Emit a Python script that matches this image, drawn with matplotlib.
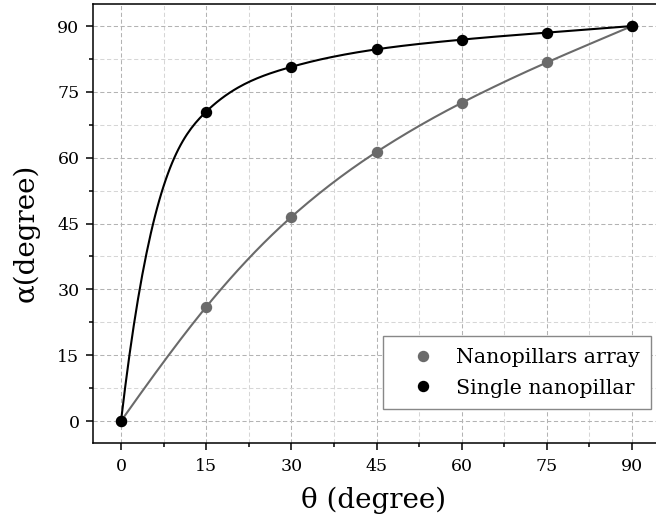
import numpy as np
import matplotlib
matplotlib.use("Agg")
import matplotlib.pyplot as plt
from matplotlib.ticker import MultipleLocator

# ---- data ----
theta = [0, 15, 30, 45, 60, 75, 90]
alpha_array = [0, 26.0, 46.5, 61.3, 72.5, 81.7, 90.0]
alpha_single = [0, 70.5, 80.7, 84.7, 86.9, 88.5, 90.0]
# slope of the drawn smooth curve at each point
slope_array = [1.83, 1.58, 1.15, 0.84, 0.66, 0.57, 0.55]
slope_single = [11.0, 1.25, 0.37, 0.19, 0.125, 0.10, 0.094]

label_array = "Nanopillars array"
label_single = "Single nanopillar"
xlabel = "θ (degree)"
ylabel = "α(degree)"
xticks = [0, 15, 30, 45, 60, 75, 90]
yticks = [0, 15, 30, 45, 60, 75, 90]

gray = "#6a6a6a"
black = "#000000"


def hermite(x, y, d, n=40):
    xs, ys = [], []
    for i in range(len(x) - 1):
        h = x[i + 1] - x[i]
        t = np.linspace(0, 1, n, endpoint=(i == len(x) - 2))
        h00 = 2 * t**3 - 3 * t**2 + 1
        h10 = t**3 - 2 * t**2 + t
        h01 = -2 * t**3 + 3 * t**2
        h11 = t**3 - t**2
        xs.append(x[i] + h * t)
        ys.append(h00 * y[i] + h10 * h * d[i] + h01 * y[i + 1] + h11 * h * d[i + 1])
    return np.concatenate(xs), np.concatenate(ys)


plt.rcParams["font.family"] = ["DejaVu Serif"]
plt.rcParams["mathtext.fontset"] = "dejavuserif"

fig = plt.figure(figsize=(6.56, 5.26), dpi=100)
ax = fig.add_axes([0.1412, 0.1578, 1.0067 - 0.1412, 0.9922 - 0.1578])

ax.set_xlim(-5, 95)
ax.set_ylim(-5, 95)

ax.xaxis.set_major_locator(MultipleLocator(15))
ax.xaxis.set_minor_locator(MultipleLocator(7.5))
ax.yaxis.set_major_locator(MultipleLocator(15))
ax.yaxis.set_minor_locator(MultipleLocator(7.5))
ax.set_xticks(xticks)
ax.set_yticks(yticks)

ax.grid(which="major", color="#b3b3b3", linestyle=(0, (4, 2.5)), linewidth=0.75, zorder=0)
ax.grid(which="minor", color="#d6d6d6", linestyle=(0, (4, 2.5)), linewidth=0.75, zorder=0)
ax.set_axisbelow(True)

xa, ya = hermite(theta, alpha_array, slope_array)
xs, ys = hermite(theta, alpha_single, slope_single)
ax.plot(xa, ya, color=gray, lw=1.5, zorder=2)
ax.plot(theta, alpha_array, "o", color=gray, ms=7.2, zorder=3, label=label_array)
ax.plot(xs, ys, color=black, lw=1.5, zorder=4)
ax.plot(theta, alpha_single, "o", color=black, ms=7.2, zorder=5, label=label_single)

for s in ["left", "bottom", "top"]:
    ax.spines[s].set_linewidth(1.1)
ax.spines["right"].set_visible(False)

ax.tick_params(which="major", direction="out", length=5, width=1.1, labelsize=12.5)
ax.tick_params(which="minor", direction="out", length=3, width=1.1)
ax.tick_params(axis="x", which="major", pad=6)
ax.tick_params(axis="y", which="major", pad=4.5)

ax.set_xlabel(xlabel, fontsize=20)
ax.set_ylabel(ylabel, fontsize=20)
ax.xaxis.set_label_coords((374 - 92.6) / 567.8, -0.1)
ax.yaxis.set_label_coords((40 - 92.6) / 567.8, 0.478)

leg = ax.legend(loc="lower right", bbox_to_anchor=(0.983, 0.0775), borderaxespad=0,
                fontsize=14.8, frameon=True, fancybox=False, edgecolor="#888888",
                borderpad=0.55, handlelength=2.79, handletextpad=0.21, labelspacing=0.58,
                framealpha=1)
leg.get_frame().set_linewidth(1.0)

fig.savefig("out.png", dpi=100)
